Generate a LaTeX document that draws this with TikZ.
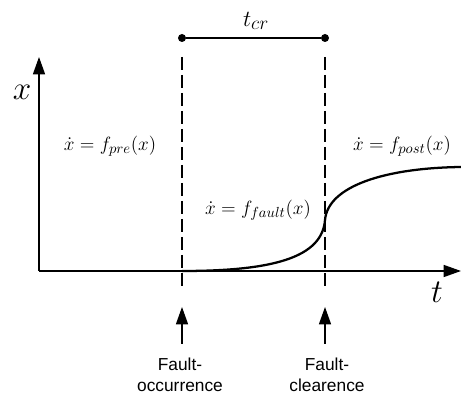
\documentclass[tikz,border=0pt]{standalone}
\usepackage{fontspec}
\setsansfont{Liberation Sans}
\usetikzlibrary{arrows.meta,positioning}
\tikzset{
  >={Triangle[length=13pt,width=9pt]},
  axis/.style   ={->, line width=1.1pt},
  guide/.style  ={line width=0.8pt, dash pattern=on 10pt off 3.5pt},
  traj/.style   ={line width=1.7pt},
  evtarr/.style ={->, line width=1pt},
  eqn/.style    ={font=\fontsize{15}{18}\selectfont, inner sep=0pt},
  axlbl/.style  ={font=\fontsize{23}{26}\selectfont, inner sep=0pt},
  evt/.style    ={font=\sffamily\fontsize{13}{15.5}\selectfont, align=center, inner sep=0pt},
  dot/.style    ={circle, fill, inner sep=0pt, minimum size=6pt},
}

\begin{document}
\begin{tikzpicture}[x=0.75pt, y=-0.75pt]
  \useasboundingbox (0,0) rectangle (461,398);

  % axes
  \coordinate (o) at (39,271);
  \coordinate (ytop) at (39,57);
  \coordinate (xend) at (461,271);
  \draw[axis] (o) -- (ytop);
  \draw[axis] (o) -- (xend);
  \node[axlbl] (xl) at (22,92) {$x$};
  \node[axlbl] (tl) at (437,292) {$t$};

  % fault instants
  \coordinate (on1) at (182,57);  \coordinate (on2) at (182,289);
  \coordinate (cl1) at (325,57);  \coordinate (cl2) at (325,289);
  \draw[guide] (on1) -- (on2);
  \draw[guide] (cl1) -- (cl2);

  % critical clearing time
  \node[dot] (d1) at (182,38) {};
  \node[dot] (d2) at (325,38) {};
  \draw[line width=0.9pt] (d1) -- (d2);
  \node[font=\fontsize{19}{22}\selectfont, inner sep=0pt] (tcr) at (256,21) {$t_{cr}$};

  % trajectory
  \coordinate (s0) at (182,271);
  \coordinate (s1) at (325,220);
  \coordinate (s2) at (461,167);
  \draw[traj] (s0) .. controls (272,271) and (322,258) .. (s1)
              .. controls (328,186) and (385,168) .. (s2);

  % dynamics
  \node[eqn] (pre)   at (110,146) {$\dot{x}=f_{pre}(x)$};
  \node[eqn] (post)  at (402,146) {$\dot{x}=f_{post}(x)$};
  \node[eqn] (fault) at (258,210) {$\dot{x}=f_{fault}(x)$};

  % events
  \coordinate (a1) at (182,344);  \coordinate (h1) at (182,307);
  \coordinate (a2) at (325,344);  \coordinate (h2) at (325,307);
  \draw[evtarr] (a1) -- (h1);
  \draw[evtarr] (a2) -- (h2);
  \node[evt] (occ) at (180,375) {Fault-\\occurrence};
  \node[evt] (clr) at (327,375) {Fault-\\clearence};
\end{tikzpicture}
\end{document}
